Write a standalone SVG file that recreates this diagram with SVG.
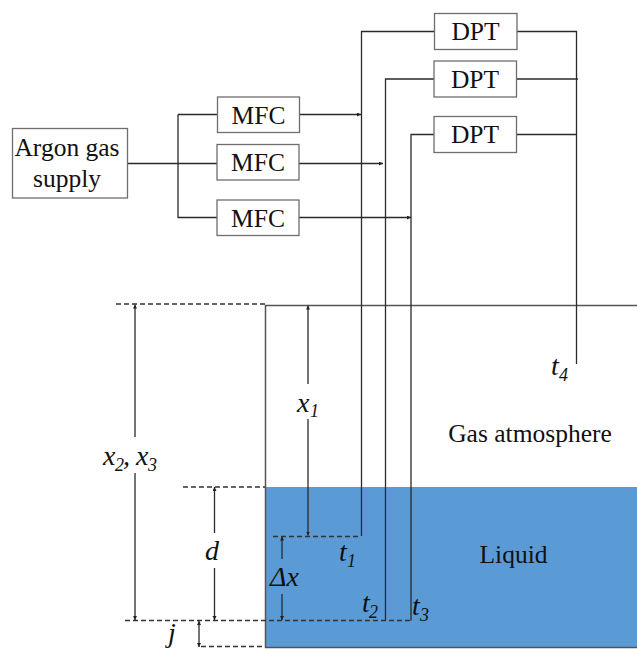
<svg xmlns="http://www.w3.org/2000/svg" width="637" height="649" viewBox="0 0 637 649">
<style>
text{font-family:"Liberation Serif","Times New Roman",serif;fill:#111}
.l{font-size:25.500px;text-anchor:middle}
.v{font-size:28px;font-style:italic}
.s{font-size:18px;font-style:italic}
.box{fill:#fff;stroke:#6e6e6e;stroke-width:1.3}
.c{fill:none;stroke:#2a2a2a;stroke-width:1.3}
.d{fill:none;stroke:#333;stroke-width:1.3;stroke-dasharray:5 3}
.w{fill:none;stroke:#555;stroke-width:1.5}
</style>
<defs>
<marker id="a" markerUnits="userSpaceOnUse" markerWidth="5" markerHeight="5" refX="4" refY="2" orient="auto-start-reverse"><path d="M0 0L4 2L0 4z" fill="#222"/></marker>
</defs>
<rect width="637" height="649" fill="#fff"/>
<rect id="liquid" x="265" y="487" width="372" height="161" fill="#5b9bd5"/>
<g id="connectors">
<path class="w" d="M637 305.500H265.500V648M265 647.500H637"/>
<path class="c" d="M127.500 163.500H217M178 114.500V218M178 114.500H217.500M178 217.500H217"/>
<path class="c" marker-end="url(#a)" d="M299.500 114.500H361"/>
<path class="c" marker-end="url(#a)" d="M299 163.500H383"/>
<path class="c" marker-end="url(#a)" d="M299 217.500H411"/>
<path class="c" d="M434.500 31.500H361.500V536"/>
<path class="c" d="M434 79H385.500V620.500"/>
<path class="c" d="M434 134.500H411V620.500"/>
<path class="c" d="M517 31.500H576.500V364"/>
<path class="c" d="M516.500 79H578"/>
<path class="c" d="M516.500 134.500H576.500"/>
<path class="d" d="M116 304H266"/>
<path class="d" d="M183 487H265"/>
<path class="d" d="M273 536.500H361"/>
<path class="d" d="M125 620.500H411"/>
<path class="d" d="M201 646.500H265"/>
<path class="c" marker-start="url(#a)" d="M135 304.500V437"/>
<path class="c" marker-end="url(#a)" d="M135 473V620"/>
<path class="c" marker-start="url(#a)" d="M308 305.500V384"/>
<path class="c" marker-end="url(#a)" d="M308 419V535.500"/>
<path class="c" marker-start="url(#a)" d="M214.500 487V533"/>
<path class="c" marker-end="url(#a)" d="M214.500 568V620"/>
<path class="c" marker-start="url(#a)" d="M282 536.500V559"/>
<path class="c" marker-end="url(#a)" d="M282 594V620"/>
<path class="c" marker-start="url(#a)" marker-end="url(#a)" d="M199 621V647"/>
</g>
<g id="argon"><rect class="box" x="12.500" y="128.500" width="115" height="69.500"/><text class="l" x="67" y="156">Argon gas</text><text class="l" x="67" y="187">supply</text></g>
<g id="mfc1"><rect class="box" x="217.500" y="97" width="82" height="35.500"/><text class="l" x="258.500" y="123.500">MFC</text></g>
<g id="mfc2"><rect class="box" x="217" y="144.500" width="82" height="35.500"/><text class="l" x="258" y="171">MFC</text></g>
<g id="mfc3"><rect class="box" x="217" y="200" width="82" height="35.500"/><text class="l" x="258" y="226.500">MFC</text></g>
<g id="dpt1"><rect class="box" x="434.500" y="13.500" width="82.500" height="36"/><text class="l" x="475.500" y="40">DPT</text></g>
<g id="dpt2"><rect class="box" x="434" y="61" width="82.500" height="36"/><text class="l" x="475" y="87.500">DPT</text></g>
<g id="dpt3"><rect class="box" x="434" y="116.500" width="82.500" height="36"/><text class="l" x="475" y="143">DPT</text></g>
<g id="labels">
<text class="l" x="530" y="442">Gas atmosphere</text>
<text class="l" x="513.500" y="563">Liquid</text>
<text class="v" x="297" y="412">x</text><text class="s" x="310" y="417">1</text>
<text class="v" x="103" y="465">x</text><text class="s" x="115" y="471">2</text><text class="v" x="123" y="465">,</text><text class="v" x="136" y="465">x</text><text class="s" x="148" y="471">3</text>
<text class="v" x="205" y="560">d</text>
<text class="v" x="270" y="586" font-size="28">Δx</text>
<text class="v" x="168" y="642">j</text>
<text class="v" x="339" y="561">t</text><text class="s" x="347" y="567">1</text>
<text class="v" x="362" y="612">t</text><text class="s" x="369" y="618">2</text>
<text class="v" x="412" y="615">t</text><text class="s" x="420" y="621">3</text>
<text class="v" x="551" y="375">t</text><text class="s" x="559" y="381">4</text>
</g>
</svg>
